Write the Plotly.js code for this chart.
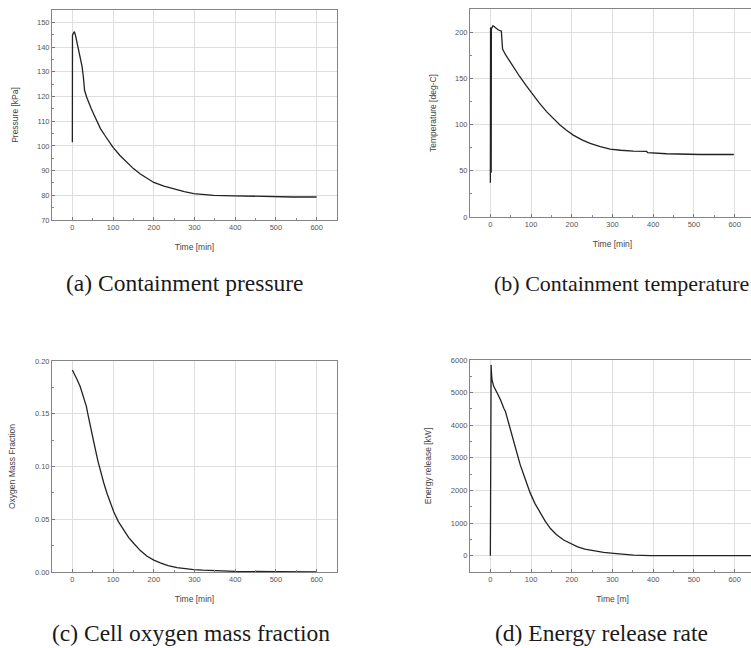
<!DOCTYPE html>
<html>
<head>
<meta charset="utf-8">
<script src="https://cdn.plot.ly/plotly-3.0.1.min.js"></script>
<style>
  html, body { margin: 0; padding: 0; overflow: hidden; background: #fff; }
  #chart { width: 760px; height: 648px; }
</style>
</head>
<body>
<div id="chart"></div>
<script>
// ---- Data ----
// (a) Containment pressure [kPa]
const pressureTime  = [0, 0.3, 3, 5, 8, 12, 16, 20, 24, 27, 30, 35, 40, 46, 52, 60, 69, 80, 90, 100, 117, 134, 150, 167, 185, 200, 225, 249, 275, 298, 325, 347, 397, 440, 479, 540, 600];
const pressureValue = [101.5, 144.8, 145.8, 146.2, 144.5, 141.5, 138.5, 135.5, 132, 128, 122.5, 119.8, 117.5, 115.2, 113, 110.2, 107, 104.2, 101.6, 99.4, 96.1, 93.3, 90.8, 88.6, 86.7, 85.2, 83.7, 82.5, 81.5, 80.7, 80.3, 80.0, 79.8, 79.6, 79.4, 79.3, 79.3];

// (b) Containment temperature [deg-C]
const tempTime  = [0, 0.5, 1.0, 1.5, 2.0, 2.5, 3.0, 6.5, 19, 27, 28.5, 30, 38, 47.6, 60, 72, 88, 105, 120, 138, 155, 171, 187, 203.6, 225, 245, 270, 294, 320, 351, 384, 386, 433, 470, 515.6, 598];
const tempValue = [37, 205, 40, 204, 48, 205, 204, 206.9, 202.5, 201, 190, 181.6, 175, 168.2, 160, 152, 142, 132, 123.5, 114, 106.5, 99.5, 93.8, 88.6, 83.5, 79.6, 76, 73.4, 72.2, 71.2, 71.0, 69.6, 68.4, 68, 67.6, 67.6];

// (c) Cell oxygen mass fraction [-]
const oxyTime  = [0, 5, 11.5, 19, 26, 30, 34.4, 39, 44, 50, 56.6, 63, 69, 77, 85, 93, 101.6, 113, 126, 138, 151, 167, 183.6, 200, 216, 235, 257, 278, 298, 320, 347.5, 400, 500, 600];
const oxyValue = [0.1914, 0.188, 0.1825, 0.176, 0.168, 0.163, 0.157, 0.148, 0.138, 0.127, 0.116, 0.1048, 0.0952, 0.0846, 0.0746, 0.0655, 0.0571, 0.0478, 0.0397, 0.0328, 0.027, 0.0203, 0.0149, 0.0112, 0.0086, 0.006, 0.0041, 0.003, 0.0022, 0.0017, 0.0013, 0.0006, 0.0003, 0.0002];

// (d) Energy release rate [kW]
const energyTime  = [0, 0.3, 0.7, 1.1, 1.5, 1.9, 2.3, 4, 8, 12, 18, 24.6, 30, 33, 36.8, 42, 49, 57, 65.5, 73, 81.9, 90, 98, 110, 122.8, 135, 147, 162, 180, 196, 213, 232, 254, 278, 303, 327, 352, 393, 450, 550, 650];
const energyValue = [0, 5850, 150, 5820, 300, 5850, 5700, 5400, 5200, 5117, 4960, 4790, 4600, 4520, 4431, 4200, 3867, 3500, 3149, 2800, 2482, 2180, 1918, 1590, 1303, 1050, 841, 650, 482, 370, 277, 200, 144, 100, 72, 42, 20, 5, 0, 0, 0];

// Axis / caption texts
const yTitles = ["Pressure [kPa]", "Temperature [deg-C]", "Oxygen Mass Fraction", "Energy release [kW]"];
const xTitles = ["Time [min]", "Time [min]", "Time [min]", "Time [m]"];
const captions = ["(a) Containment pressure", "(b) Containment temperature", "(c) Cell oxygen mass fraction", "(d) Energy release rate"];

// ---- Layout helpers (pixel -> paper) ----
const W = 760, H = 648;
const px = v => v / W;
const py = v => 1 - v / H;

const lineStyle = {color: '#222', width: 1.3};
const traces = [
  {x: pressureTime, y: pressureValue, xaxis: 'x',  yaxis: 'y',  type: 'scatter', mode: 'lines', line: lineStyle, hoverinfo: 'x+y'},
  {x: tempTime,     y: tempValue,     xaxis: 'x2', yaxis: 'y2', type: 'scatter', mode: 'lines', line: lineStyle, hoverinfo: 'x+y'},
  {x: oxyTime,      y: oxyValue,      xaxis: 'x3', yaxis: 'y3', type: 'scatter', mode: 'lines', line: lineStyle, hoverinfo: 'x+y'},
  {x: energyTime,   y: energyValue,   xaxis: 'x4', yaxis: 'y4', type: 'scatter', mode: 'lines', line: lineStyle, hoverinfo: 'x+y'}
];

const tickFont = {family: 'Liberation Sans, Arial, sans-serif', size: 7.5, color: '#555'};
const titleFont = {family: 'Liberation Sans, Arial, sans-serif', size: 8.5, color: '#444'};

function xAxis(domPx, anchor, titleText) {
  return {
    domain: [px(domPx[0]), px(domPx[1])], anchor: anchor,
    range: [-50, 650], dtick: 100, tick0: 0,
    showline: true, mirror: true, linecolor: '#858585', linewidth: 1,
    ticks: 'inside', ticklen: 3, tickcolor: '#777',
    minor: {ticks: 'inside', dtick: 50, ticklen: 2, tickcolor: '#888', showgrid: false},
    showgrid: true, gridcolor: '#dedede', gridwidth: 1, zeroline: false,
    tickfont: tickFont,
    title: {text: titleText, font: titleFont, standoff: 13}
  };
}
function yAxis(domPx, anchor, range, dtick, minorDtick, titleText, fmt) {
  const a = {
    domain: [py(domPx[1]), py(domPx[0])], anchor: anchor,
    range: range, dtick: dtick, tick0: 0,
    showline: true, mirror: true, linecolor: '#858585', linewidth: 1,
    ticks: 'inside', ticklen: 3, tickcolor: '#777',
    minor: {ticks: 'inside', dtick: minorDtick, ticklen: 2, tickcolor: '#888', showgrid: false},
    showgrid: true, gridcolor: '#dedede', gridwidth: 1, zeroline: false,
    tickfont: tickFont,
    title: {text: titleText, font: titleFont, standoff: 17}
  };
  if (fmt) a.tickformat = fmt;
  return a;
}

const capFontBig = {family: 'Liberation Serif, Times New Roman, serif', size: 23.5, color: '#1a1a1a'};
const capFontB   = {family: 'Liberation Serif, Times New Roman, serif', size: 22, color: '#1a1a1a'};
const layout = {
  width: W, height: H,
  margin: {l: 0, r: 0, t: 0, b: 0},
  paper_bgcolor: '#fff', plot_bgcolor: '#fff',
  showlegend: false,
  xaxis:  xAxis([52, 337], 'y',  xTitles[0]),
  yaxis:  yAxis([10, 220], 'x',  [70, 155], 10, 5, yTitles[0]),
  xaxis2: xAxis([470, 755], 'y2', xTitles[1]),
  yaxis2: yAxis([9, 217], 'x2', [0, 225], 50, 25, yTitles[1]),
  xaxis3: xAxis([52, 337], 'y3', xTitles[2]),
  yaxis3: yAxis([361, 572], 'x3', [0, 0.2], 0.05, 0.025, yTitles[2], '.2f'),
  xaxis4: xAxis([470, 755], 'y4', xTitles[3]),
  yaxis4: yAxis([360, 572], 'x4', [-500, 6000], 1000, 500, yTitles[3]),
  annotations: [
    {text: captions[0], x: px(185), y: py(283), xref: 'paper', yref: 'paper', xanchor: 'center', yanchor: 'middle', showarrow: false, font: capFontBig},
    {text: captions[1], x: px(492), y: py(283), xref: 'paper', yref: 'paper', xanchor: 'left', yanchor: 'middle', showarrow: false, font: capFontB},
    {text: captions[2], x: px(191), y: py(633), xref: 'paper', yref: 'paper', xanchor: 'center', yanchor: 'middle', showarrow: false, font: capFontBig},
    {text: captions[3], x: px(493), y: py(633), xref: 'paper', yref: 'paper', xanchor: 'left', yanchor: 'middle', showarrow: false, font: capFontBig}
  ]
};

Plotly.newPlot('chart', traces, layout, {staticPlot: true, displayModeBar: false});
</script>
</body>
</html>
